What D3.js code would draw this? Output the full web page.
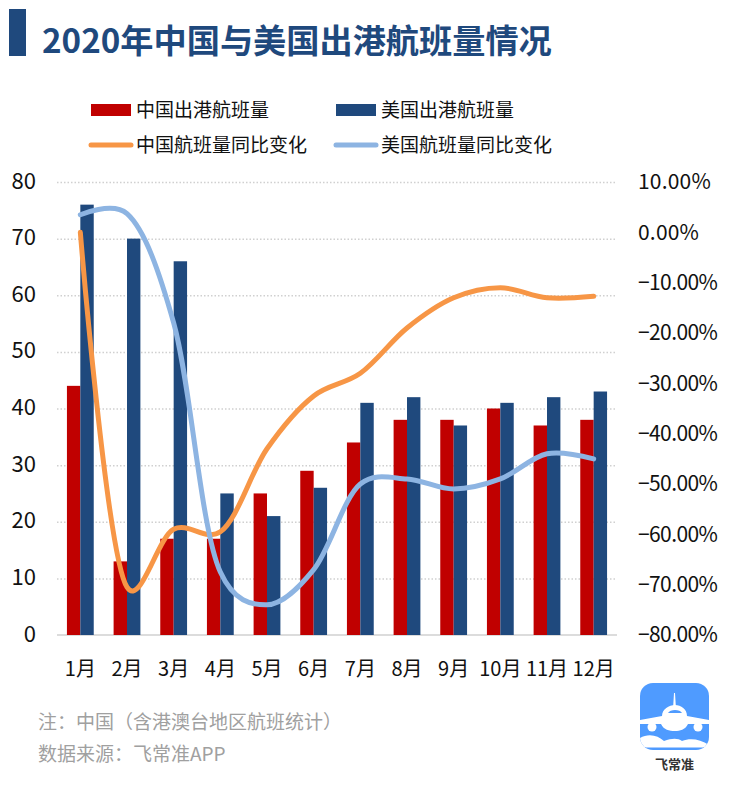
<!DOCTYPE html>
<html>
<head>
<meta charset="utf-8">
<script src="https://cdnjs.cloudflare.com/ajax/libs/d3/7.8.5/d3.min.js"></script>
<style>
  html, body { margin: 0; padding: 0; background: #fff; }
  svg text { font-family: "Noto Sans CJK SC", "Noto Sans", sans-serif; }
  .domain { display: none; }
  .tick line { display: none; }
  .grid .tick line { display: block; stroke: #d0d0d0; stroke-width: 1.5; stroke-dasharray: 1.5 2; }
</style>
</head>
<body>
<div id="chart"></div>
<script>
var months = ['1月','2月','3月','4月','5月','6月','7月','8月','9月','10月','11月','12月'];
var chinaFlights = [44,13,17,17,25,29,34,38,38,40,37,38];
var usFlights = [76,70,66,25,21,26,41,42,37,41,42,43];
var chinaChange = [0,-70.5,-59,-59.5,-43,-32.5,-28,-19,-13,-11,-13,-12.7];
var usChange = [3.5,3.7,-18,-67.5,-74,-67,-50,-49,-51,-49,-44,-45];
var leftTicks = [0,10,20,30,40,50,60,70,80];
var rightTicks = [10,0,-10,-20,-30,-40,-50,-60,-70,-80];

var margin = {top:182, left:57, right:118, bottom:152};
var width = 735 - margin.left - margin.right;
var height = 787 - margin.top - margin.bottom;

var svg = d3.select('#chart').append('svg')
  .attr('width', 735)
  .attr('height', 787);

// title
svg.append('rect').attr('x',9).attr('y',9).attr('width',17).attr('height',47).attr('fill','#1f497d');
svg.append('text').attr('x',42).attr('y',53)
  .attr('font-size',33.2).attr('font-weight',700).attr('fill','#1f497d')
  .text('2020年中国与美国出港航班量情况');

var plot = svg.append('g').attr('transform','translate(' + margin.left + ',' + margin.top + ')');

var x = d3.scaleBand().domain(months).range([0,width]);
var y = d3.scaleLinear().domain([0,80]).range([height,0]);
var yRight = d3.scaleLinear().domain([-80,10]).range([height,0]);

plot.append('g').attr('class','grid')
  .call(d3.axisLeft(y).tickValues(leftTicks.slice(1)).tickSize(-width).tickFormat(''));

plot.append('line')
  .attr('x1',0).attr('x2',width)
  .attr('y1',y(0)).attr('y2',y(0))
  .attr('stroke','#d0d0d0').attr('stroke-width',1.5);

var barW = 13.4;
plot.selectAll('.bar-cn').data(months).enter().append('rect')
  .attr('class','bar-cn')
  .attr('fill','#c00000')
  .attr('x',function(d){ return x(d) + x.bandwidth()/2 - barW; })
  .attr('y',function(d,i){ return y(chinaFlights[i]); })
  .attr('width',barW)
  .attr('height',function(d,i){ return height - y(chinaFlights[i]); });

plot.selectAll('.bar-us').data(months).enter().append('rect')
  .attr('class','bar-us')
  .attr('fill','#1f497d')
  .attr('x',function(d){ return x(d) + x.bandwidth()/2; })
  .attr('y',function(d,i){ return y(usFlights[i]); })
  .attr('width',barW)
  .attr('height',function(d,i){ return height - y(usFlights[i]); });

var line = d3.line()
  .x(function(d,i){ return x(months[i]) + x.bandwidth()/2; })
  .y(function(d){ return yRight(d); })
  .curve(d3.curveCatmullRom.alpha(0.25));

plot.append('path').attr('d',line(chinaChange))
  .attr('fill','none').attr('stroke','#f79646').attr('stroke-width',5).attr('stroke-linecap','round');
plot.append('path').attr('d',line(usChange))
  .attr('fill','none').attr('stroke','#8db4e2').attr('stroke-width',5).attr('stroke-linecap','round');

// axes
var gLeft = plot.append('g')
  .call(d3.axisLeft(y).tickValues(leftTicks).tickSize(0).tickPadding(21));
gLeft.selectAll('text').attr('font-size',22).attr('fill','#111').attr('y',-1);

var gRight = plot.append('g').attr('transform','translate(' + width + ',0)')
  .call(d3.axisRight(yRight).tickValues(rightTicks).tickSize(0)
    .tickFormat(function(d){ return d3.format('.2f')(d) + '%'; }));
gRight.selectAll('text').attr('font-size',21).attr('fill','#111')
  .attr('text-anchor','start').attr('x',21)
  .style('letter-spacing',function(d){ return d < 0 ? '-0.6px' : '0.2px'; });

var gBottom = plot.append('g').attr('transform','translate(0,' + height + ')')
  .call(d3.axisBottom(x).tickSize(0).tickPadding(27));
gBottom.selectAll('text').attr('font-size',20).attr('fill','#111');

// legend
var legendItems = [
  {name:'中国出港航班量', color:'#c00000', type:'bar', x:91, y:110},
  {name:'美国出港航班量', color:'#1f497d', type:'bar', x:336, y:110},
  {name:'中国航班量同比变化', color:'#f79646', type:'line', x:91, y:145},
  {name:'美国航班量同比变化', color:'#8db4e2', type:'line', x:336, y:145}
];
legendItems.forEach(function(d){
  if (d.type === 'bar') {
    svg.append('rect').attr('x',d.x).attr('y',d.y-6).attr('width',40).attr('height',12).attr('fill',d.color);
  } else {
    svg.append('line').attr('x1',d.x).attr('x2',d.x+40).attr('y1',d.y).attr('y2',d.y)
      .attr('stroke',d.color).attr('stroke-width',5).attr('stroke-linecap','round');
  }
  svg.append('text').attr('x',d.x+45).attr('y',d.y+7)
    .attr('font-size',19).attr('fill','#111').text(d.name);
});

// footnotes
svg.append('text').attr('x',38).attr('y',729).attr('font-size',19).attr('fill','#a0a0a0')
  .text('注：中国（含港澳台地区航班统计）');
svg.append('text').attr('x',38).attr('y',761).attr('font-size',19).attr('fill','#a0a0a0')
  .text('数据来源：飞常准APP');

// logo
var logo = svg.append('g').attr('transform','translate(640,683)');
logo.append('clipPath').attr('id','logo-clip').append('rect')
  .attr('width',69).attr('height',67).attr('rx',13);
var logoInner = logo.append('g').attr('clip-path','url(#logo-clip)');
logoInner.append('rect').attr('width',69).attr('height',67).attr('fill','#4f9bff');
logoInner.append('path').attr('d','M33 26 L34 10 L35 10 L36 26 Z').attr('fill','#fff');
logoInner.append('path')
  .attr('d','M0 37 L22 33 C22 26 29 22 35 22 C41 22 47 26 47 33 L69 37 L69 41 L48 41 C45 47 40 48 35 48 C29 48 24 47 21 41 L0 41 Z')
  .attr('fill','#fff');
logoInner.append('circle').attr('cx',12).attr('cy',44).attr('r',4.5).attr('fill','#fff');
logoInner.append('circle').attr('cx',58).attr('cy',44).attr('r',4.5).attr('fill','#fff');
logoInner.append('path').attr('d','M28 30 C30 26 40 26 42 30 Z').attr('fill','#4f9bff');
logoInner.append('path')
  .attr('d','M0 55 C8 50 18 52 24 58 C32 55 38 55 42 58 C50 55 60 56 69 62 L69 64 L0 64 Z')
  .attr('fill','#fff');
logoInner.append('rect').attr('y',64).attr('width',69).attr('height',1).attr('fill','#a8ccff');
logo.append('text').attr('x',34.5).attr('y',86).attr('text-anchor','middle')
  .attr('font-size',13).attr('font-weight',700).attr('fill','#333').text('飞常准');
</script>
</body>
</html>
